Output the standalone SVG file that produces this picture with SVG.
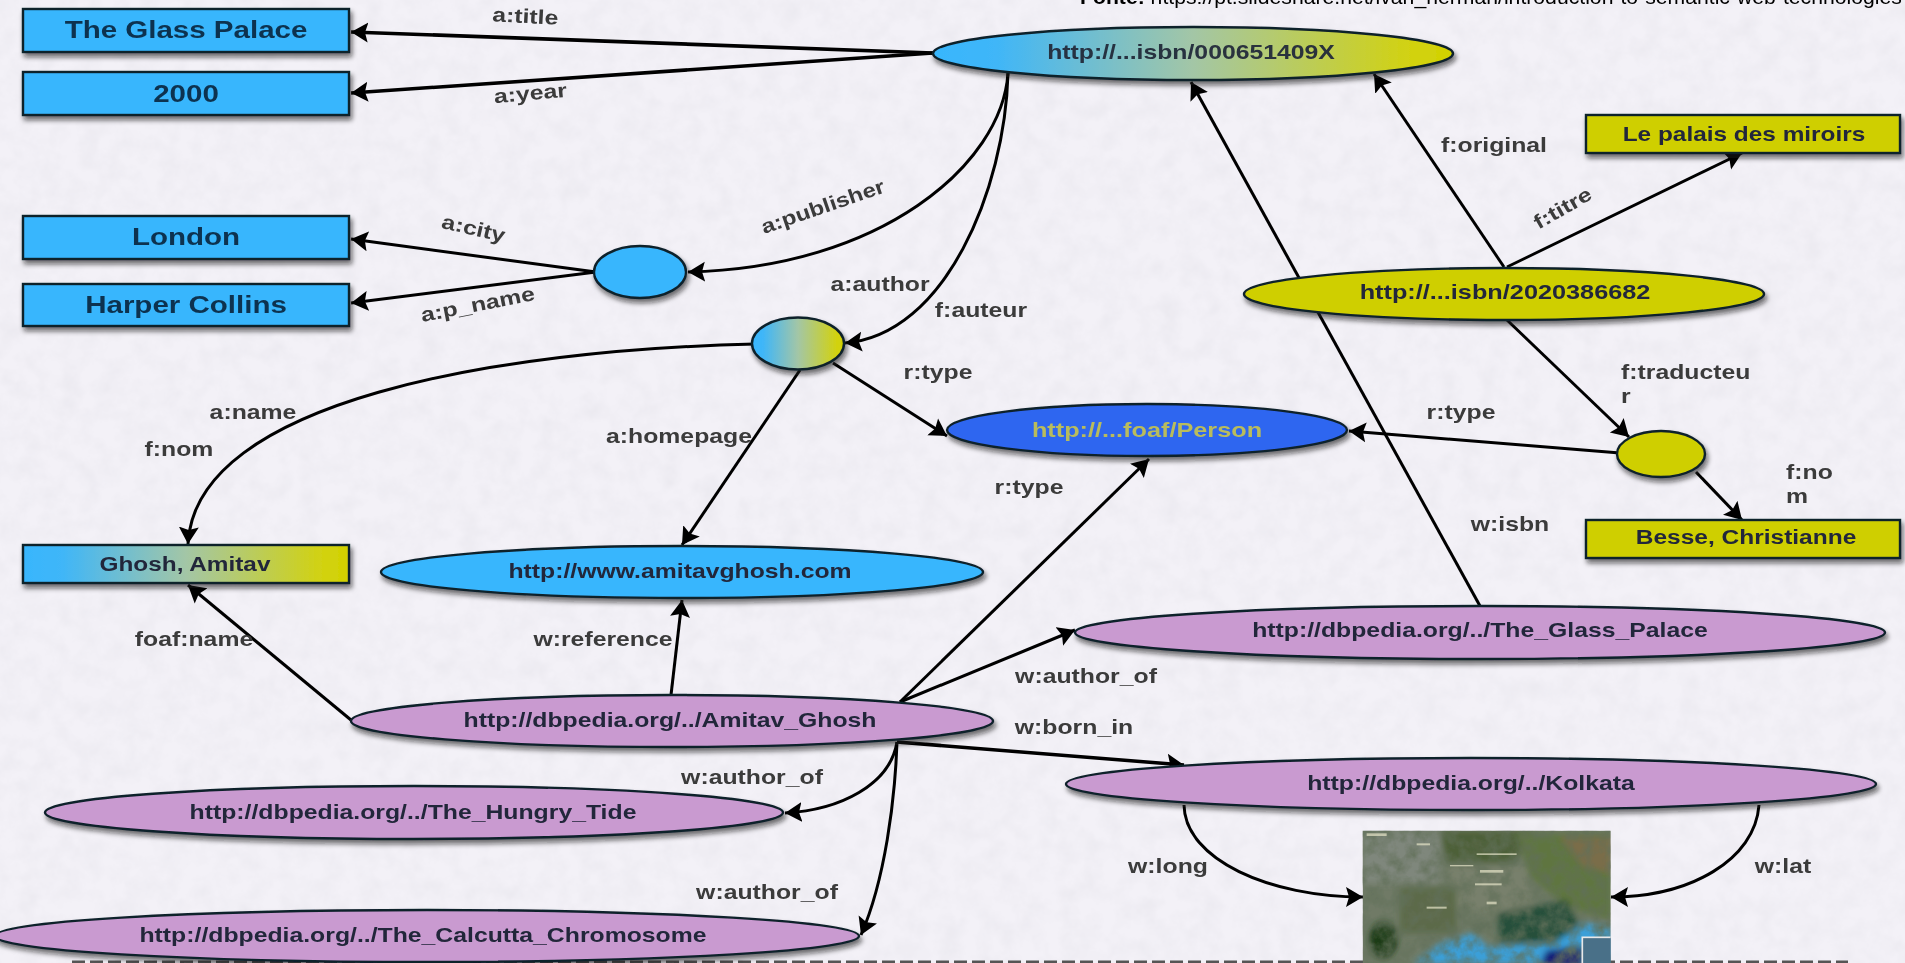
<svg xmlns="http://www.w3.org/2000/svg" width="1905" height="963" viewBox="0 0 1905 963">
<style>
text{font-family:"Liberation Sans",Arial,sans-serif;font-weight:700;text-anchor:middle}
.l{font-size:20px;fill:#3a3a3a}
.ll{text-anchor:start}
.big{font-size:24.6px;fill:#0d3350}
.n{font-size:19.6px;fill:#22283a}
.p{fill:#c99ad0}
.b{fill:#38b6fd}
.y{fill:#cfcf05}
.g{fill:url(#grad)}
.s{stroke:#10202c;stroke-width:2.4;filter:url(#sh)}
.c{fill:none;stroke:#000;stroke-width:3;marker-end:url(#ah)}
.t{stroke-width:3.6}
</style>
<defs>
<linearGradient id="grad"><stop offset="0" stop-color="#38b6fd"/><stop offset=".12" stop-color="#3fb6f8"/><stop offset=".5" stop-color="#a3c6a6"/><stop offset=".92" stop-color="#d2d210"/><stop offset="1" stop-color="#d2d200"/></linearGradient>
<marker id="ah" markerUnits="userSpaceOnUse" markerWidth="20" markerHeight="22" refX="17" refY="10.5" orient="auto"><path d="M0 0.5L17 10.5L0 20.5L3 10.5Z" fill="#000"/></marker>
<filter id="sh" x="-10%" y="-30%" width="120%" height="170%"><feDropShadow dx="2" dy="4" stdDeviation="2.5" flood-color="#111" flood-opacity=".6"/></filter>
<filter id="soft" filterUnits="userSpaceOnUse" x="0" y="0" width="1905" height="963"><feGaussianBlur stdDeviation=".65"/></filter>
<filter id="mapb" filterUnits="userSpaceOnUse" x="0" y="0" width="1100" height="600"><feGaussianBlur stdDeviation="9"/></filter>
<filter id="mapn" filterUnits="userSpaceOnUse" x="188" y="92" width="744" height="400"><feTurbulence type="fractalNoise" baseFrequency=".025" numOctaves="4" seed="9"/><feColorMatrix values="0 0 0 0 .12 0 0 0 0 .16 0 0 0 0 .1 1.6 0 0 0 -.52"/></filter>
<filter id="paper" filterUnits="userSpaceOnUse" x="0" y="0" width="1905" height="963"><feTurbulence type="fractalNoise" baseFrequency=".05" numOctaves="4" seed="4"/><feColorMatrix values="0 0 0 0 .55 0 0 0 0 .55 0 0 0 0 .6 .18 .18 0 0 -.14"/></filter>
<clipPath id="mc"><rect x="188" y="92" width="744" height="400"/></clipPath>
</defs>
<rect id="background" width="1905" height="963" fill="#f3f1f7"/>
<rect width="1905" height="963" filter="url(#paper)"/>
<g filter="url(#soft)">
<line id="bottom-dashes" x1="72" y1="962" x2="1848" y2="962" stroke="#555" stroke-width="3" stroke-dasharray="13 5"/>
<text transform="translate(1080 4) scale(1.06 1)" font-size="20" style="font-weight:400;text-anchor:start;fill:#000"><tspan font-weight="700">Fonte:</tspan> https://pt.slideshare.net/ivan_herman/introduction-to-semantic-web-technologies</text>
<g id="connectors">
<path class="c t" d="M933 53L351 32"/>
<path class="c t" d="M933 53L351 93"/>
<path class="c" d="M596 272L351 239"/>
<path class="c" d="M596 272L351 303"/>
<path class="c" d="M1008 73C1002 165 880 268 688 272"/>
<path class="c" d="M1008 73C1005 190 945 335 845 343"/>
<path class="c" d="M755 344C500 350 195 400 188 544"/>
<path class="c" d="M800 370L682 545"/>
<path class="c" d="M833 363L947 436"/>
<path class="c" d="M1504 267L1374 74"/>
<path class="c" d="M1480 606L1191 82"/>
<path class="c" d="M1507 267L1742 153"/>
<path class="c" d="M1507 320L1629 437"/>
<path class="c" d="M1620 453L1349 431"/>
<path class="c" d="M1696 472L1742 520"/>
<path class="c" d="M351 720L188 585"/>
<path class="c" d="M671 695L682 600"/>
<path class="c" d="M900 702L1149 459"/>
<path class="c" d="M900 702L1075 630"/>
<path class="c t" d="M897 742L1184 765"/>
<path class="c" d="M897 742C890 785 840 810 785 813"/>
<path class="c" d="M897 742C895 800 885 880 861 935"/>
<path class="c" d="M1184 805C1185 860 1270 897 1363 897"/>
<path class="c" d="M1759 805C1755 860 1690 897 1611 897"/>
</g>
<g id="labels">
<text class="l" transform="translate(525 23) rotate(3) scale(1.24 1)">a:title</text>
<text class="l" transform="translate(531 100) rotate(-5) scale(1.24 1)">a:year</text>
<text class="l" transform="translate(472 235) rotate(13) scale(1.24 1)">a:city</text>
<text class="l" transform="translate(479 311) rotate(-11) scale(1.24 1)">a:p_name</text>
<text class="l" transform="translate(825 213) rotate(-19) scale(1.2 1)">a:publisher</text>
<text class="l" transform="translate(880 291) scale(1.24 1)">a:author</text>
<text class="l" transform="translate(981 317) scale(1.24 1)">f:auteur</text>
<text class="l" transform="translate(938 379) scale(1.24 1)">r:type</text>
<text class="l" transform="translate(253 419) scale(1.24 1)">a:name</text>
<text class="l" transform="translate(179 456) scale(1.24 1)">f:nom</text>
<text class="l" transform="translate(679 443) scale(1.24 1)">a:homepage</text>
<text class="l" transform="translate(1029 494) scale(1.24 1)">r:type</text>
<text class="l" transform="translate(1494 152) scale(1.24 1)">f:original</text>
<text class="l" transform="translate(1566 214) rotate(-30) scale(1.24 1)">f:titre</text>
<text class="l ll" transform="translate(1621 379) scale(1.24 1)">f:traducteu</text>
<text class="l ll" transform="translate(1621 403) scale(1.24 1)">r</text>
<text class="l" transform="translate(1461 419) scale(1.24 1)">r:type</text>
<text class="l ll" transform="translate(1786 479) scale(1.24 1)">f:no</text>
<text class="l ll" transform="translate(1786 503) scale(1.24 1)">m</text>
<text class="l" transform="translate(1510 531) scale(1.24 1)">w:isbn</text>
<text class="l" transform="translate(194 646) scale(1.24 1)">foaf:name</text>
<text class="l" transform="translate(603 646) scale(1.24 1)">w:reference</text>
<text class="l" transform="translate(1086 683) scale(1.24 1)">w:author_of</text>
<text class="l" transform="translate(1074 734) scale(1.24 1)">w:born_in</text>
<text class="l" transform="translate(752 784) scale(1.24 1)">w:author_of</text>
<text class="l" transform="translate(767 899) scale(1.24 1)">w:author_of</text>
<text class="l" transform="translate(1168 873) scale(1.24 1)">w:long</text>
<text class="l" transform="translate(1783 873) scale(1.24 1)">w:lat</text>
</g>
<g id="node-glass-palace"><rect class="b s" x="23" y="9" width="326" height="43"/><text class="big" transform="translate(186 38) scale(1.2 1)">The Glass Palace</text></g>
<g id="node-2000"><rect class="b s" x="23" y="72" width="326" height="43"/><text class="big" transform="translate(186 102) scale(1.2 1)">2000</text></g>
<g id="node-london"><rect class="b s" x="23" y="216" width="326" height="43"/><text class="big" transform="translate(186 245) scale(1.2 1)">London</text></g>
<g id="node-harper"><rect class="b s" x="23" y="284" width="326" height="42"/><text class="big" transform="translate(186 313) scale(1.2 1)">Harper Collins</text></g>
<g id="node-ghosh"><rect class="g s" x="23" y="545" width="326" height="38"/><text class="n" style="font-size:20.3px" transform="translate(185 571) scale(1.2 1)">Ghosh, Amitav</text></g>
<g id="node-le-palais"><rect class="y s" x="1586" y="115" width="314" height="38"/><text class="n" style="font-size:20px" transform="translate(1744 141) scale(1.22 1)">Le palais des miroirs</text></g>
<g id="node-besse"><rect class="y s" x="1586" y="520" width="314" height="38"/><text class="n" style="font-size:20px" transform="translate(1746 544) scale(1.225 1)">Besse, Christianne</text></g>
<g id="node-isbn-glass"><ellipse class="g s" cx="1193" cy="53.5" rx="260" ry="26.5"/><text class="n" fill-opacity=".95" transform="translate(1191 59) scale(1.265 1)">http://...isbn/000651409X</text></g>
<g id="node-publisher"><ellipse class="b s" cx="640" cy="272" rx="46" ry="26"/></g>
<g id="node-author"><ellipse class="g s" cx="798" cy="343.5" rx="46" ry="26"/></g>
<g id="node-isbn-fr"><ellipse class="y s" cx="1504" cy="294" rx="260" ry="26"/><text class="n" transform="translate(1505 299) scale(1.29 1)">http://...isbn/2020386682</text></g>
<g id="node-foaf"><ellipse class="s" fill="#2e66f0" cx="1147" cy="430" rx="200" ry="26"/><text class="n" style="fill:#b9bc5c" transform="translate(1147 437) scale(1.29 1)">http://...foaf/Person</text></g>
<g id="node-translator"><ellipse class="y s" cx="1661" cy="454" rx="44" ry="23"/></g>
<g id="node-homepage"><ellipse class="b s" cx="682" cy="572" rx="301" ry="26"/><text class="n" transform="translate(680 578) scale(1.265 1)">http://www.amitavghosh.com</text></g>
<g id="node-amitav"><ellipse class="p s" cx="672" cy="721" rx="321" ry="26"/><text class="n" transform="translate(670 727) scale(1.265 1)">http://dbpedia.org/../Amitav_Ghosh</text></g>
<g id="node-hungry"><ellipse class="p s" cx="414" cy="812.5" rx="369" ry="26.5"/><text class="n" transform="translate(413 819) scale(1.265 1)">http://dbpedia.org/../The_Hungry_Tide</text></g>
<g id="node-calcutta"><ellipse class="p s" cx="427" cy="936" rx="432" ry="26"/><text class="n" transform="translate(423 942) scale(1.265 1)">http://dbpedia.org/../The_Calcutta_Chromosome</text></g>
<g id="node-dbp-glass"><ellipse class="p s" cx="1480" cy="632.5" rx="405" ry="26.5"/><text class="n" transform="translate(1480 637) scale(1.265 1)">http://dbpedia.org/../The_Glass_Palace</text></g>
<g id="node-kolkata"><ellipse class="p s" cx="1471" cy="784" rx="405" ry="26"/><text class="n" transform="translate(1471 790) scale(1.265 1)">http://dbpedia.org/../Kolkata</text></g>
<g id="node-map" transform="translate(1300 800) scale(.3333)">
<g clip-path="url(#mc)">
<rect x="188" y="92" width="744" height="400" fill="#6f7a66"/>
<g filter="url(#mapb)">
<path d="M188 92H420V250H188Z" fill="#7f877b"/>
<path d="M420 92H700L640 190H440Z" fill="#4d6038"/>
<path d="M650 100H932V360L800 320L690 230Z" fill="#5e7440"/>
<path d="M780 110H932V220L850 200Z" fill="#7a6d48"/>
<path d="M440 200H680L700 340L600 350L470 320Z" fill="#78806c"/>
<ellipse cx="250" cy="420" rx="42" ry="55" fill="#1a3a18"/>
<path d="M300 260H470V400H300Z" fill="#5b6b4a"/>
<path d="M590 340L800 300L840 380L760 430H600Z" fill="#27503a"/>
<path d="M340 492L420 430L520 400L560 440L760 430L850 370L932 380V492Z" fill="#3a9fd8"/>
<path d="M720 492L740 450L850 440V492Z" fill="#141e78"/>
</g>
<rect x="188" y="92" width="744" height="400" filter="url(#mapn)"/>
<g fill="#e6e4c8" opacity=".7"><rect x="200" y="100" width="60" height="8"/><rect x="350" y="130" width="40" height="6"/><rect x="530" y="160" width="120" height="5"/><rect x="540" y="210" width="70" height="8"/><rect x="525" y="250" width="80" height="6"/><rect x="560" y="305" width="30" height="8"/><rect x="380" y="320" width="60" height="6"/><rect x="450" y="195" width="70" height="4"/></g>
<rect x="847" y="412" width="90" height="90" fill="#4a7088" stroke="#e8e8e8" stroke-width="5"/>
</g>
</g>
</g>
</svg>
